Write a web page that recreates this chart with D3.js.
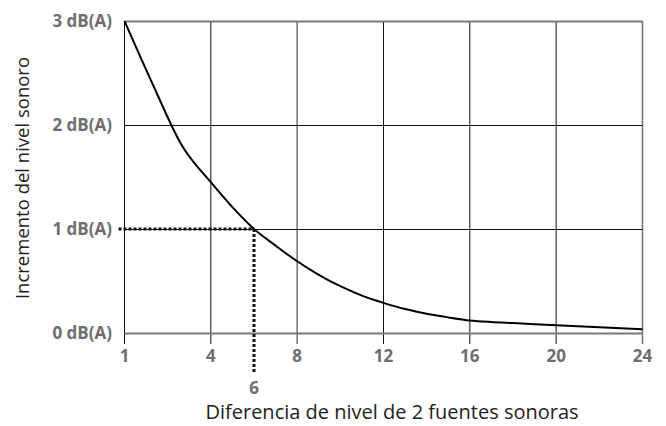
<!DOCTYPE html>
<html>
<head>
<meta charset="utf-8">
<script src="https://cdn.jsdelivr.net/npm/d3@7"></script>
<style>
  body { margin: 0; background: #fff; }
  svg { display: block; }
</style>
</head>
<body>
<div id="container"></div>
<script>
// data
const xTicks = [1, 4, 8, 12, 16, 20, 24];
const yTicks = [0, 1, 2, 3];
const yTickLabels = ["0 dB(A)", "1 dB(A)", "2 dB(A)", "3 dB(A)"];
const diffValues = [1, 2, 3, 4, 5, 6, 7, 8, 9, 10, 11, 12, 13, 14, 15, 16, 17, 18, 20, 22, 24];
const incrValues = [3, 2.38, 1.8, 1.45, 1.21, 1.0, 0.84, 0.69, 0.56, 0.45, 0.36, 0.29, 0.23, 0.185, 0.15, 0.12, 0.105, 0.095, 0.075, 0.055, 0.035];
const markX = 6;
const markY = 1;
const xTitle = "Diferencia de nivel de 2 fuentes sonoras";
const yTitle = "Incremento del nivel sonoro";

const width = 666;
const height = 426;

const svg = d3.select("#container")
  .append("svg")
  .attr("width", width)
  .attr("height", height);

// scales (x ticks are evenly spaced, piecewise linear between them)
const x0 = 124.5, x1 = 642.5;
const scaleX = d3.scaleLinear()
  .domain(xTicks)
  .range(xTicks.map((d, i) => x0 + i * (x1 - x0) / (xTicks.length - 1)));
const scaleY = d3.scaleLinear()
  .domain([0, 3])
  .range([333, 21]);

const labelFont = "'Open Sans', sans-serif";

// grid
const groupGrid = svg.append("g").attr("class", "groupGrid");
groupGrid.selectAll("line.v")
  .data(xTicks)
  .join("line")
  .attr("class", "v")
  .attr("x1", d => scaleX(d))
  .attr("x2", d => scaleX(d))
  .attr("y1", scaleY(3))
  .attr("y2", scaleY(0) + 11)
  .attr("stroke", d => (d === 8 || d === 24) ? "#7a7a7a" : "#111")
  .attr("stroke-width", d => (d === 8 || d === 24) ? 1.6 : 1);
groupGrid.selectAll("line.h")
  .data(yTicks)
  .join("line")
  .attr("class", "h")
  .attr("x1", scaleX(1))
  .attr("x2", scaleX(24))
  .attr("y1", d => scaleY(d) + 0.5)
  .attr("y2", d => scaleY(d) + 0.5)
  .attr("stroke", d => (d === 0 || d === 3) ? "#7a7a7a" : "#111")
  .attr("stroke-width", d => (d === 0 || d === 3) ? 2 : 1);

// dotted guide lines
const groupGuide = svg.append("g").attr("class", "groupGuide");
groupGuide.append("line")
  .attr("x1", scaleX(1) - 6)
  .attr("x2", scaleX(markX))
  .attr("y1", scaleY(markY))
  .attr("y2", scaleY(markY))
  .attr("stroke", "#111")
  .attr("stroke-width", 3)
  .attr("stroke-dasharray", "3,2");
groupGuide.append("line")
  .attr("x1", scaleX(markX))
  .attr("x2", scaleX(markX))
  .attr("y1", scaleY(markY))
  .attr("y2", 372)
  .attr("stroke", "#111")
  .attr("stroke-width", 3)
  .attr("stroke-dasharray", "3,2");

// curve
const line = d3.line()
  .x((d, i) => scaleX(d))
  .y((d, i) => scaleY(incrValues[i]))
  .curve(d3.curveMonotoneX);
svg.append("path")
  .attr("d", line(diffValues))
  .attr("fill", "none")
  .attr("stroke", "#000")
  .attr("stroke-width", 2);

// tick labels
svg.append("g")
  .selectAll("text")
  .data(yTicks)
  .join("text")
  .attr("x", 112)
  .attr("y", d => scaleY(d))
  .attr("dy", "0.35em")
  .attr("text-anchor", "end")
  .attr("fill", "#6e6e6e")
  .style("font-family", labelFont)
  .style("font-weight", "bold")
  .style("font-size", "17px")
  .text((d, i) => yTickLabels[i]);

svg.append("g")
  .selectAll("text")
  .data(xTicks)
  .join("text")
  .attr("x", d => scaleX(d))
  .attr("y", 362)
  .attr("text-anchor", "middle")
  .attr("fill", "#6e6e6e")
  .style("font-family", labelFont)
  .style("font-weight", "bold")
  .style("font-size", "17px")
  .text(d => d);

svg.append("text")
  .attr("x", scaleX(markX))
  .attr("y", 394)
  .attr("text-anchor", "middle")
  .attr("fill", "#6e6e6e")
  .style("font-family", labelFont)
  .style("font-weight", "bold")
  .style("font-size", "17px")
  .text(markX);

// axis titles
svg.append("text")
  .attr("x", 392)
  .attr("y", 419)
  .attr("text-anchor", "middle")
  .attr("fill", "#222")
  .style("font-family", labelFont)
  .style("font-size", "20px")
  .text(xTitle);

svg.append("text")
  .attr("transform", "translate(29, 178) rotate(-90)")
  .attr("text-anchor", "middle")
  .attr("fill", "#222")
  .style("font-family", labelFont)
  .style("font-size", "18.5px")
  .text(yTitle);
</script>
</body>
</html>
